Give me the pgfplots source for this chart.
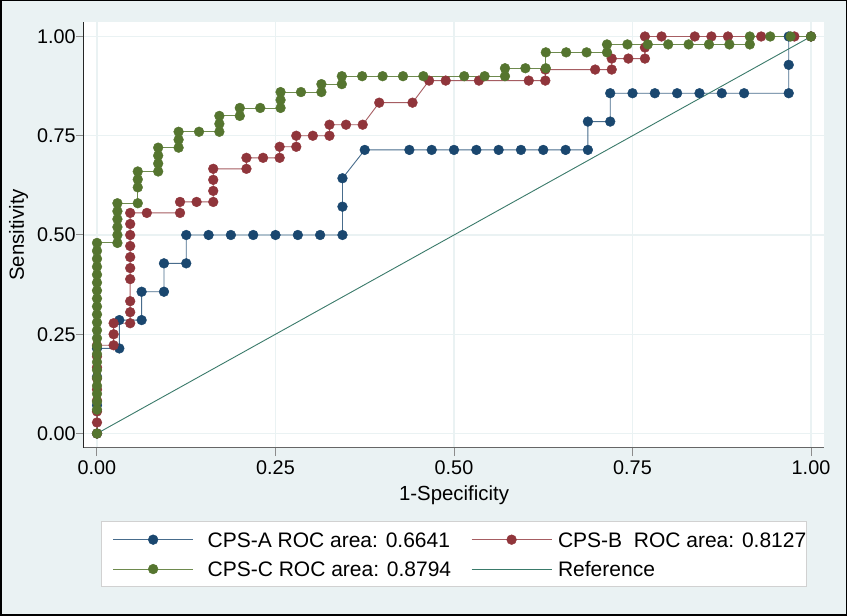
\documentclass[border=0pt]{standalone}
\usepackage{fontspec}
\setmainfont{Liberation Sans}
\usepackage{pgfplots}
\pgfplotsset{compat=1.18}
\definecolor{bgc}{HTML}{EAF2F3}
\definecolor{cA}{HTML}{1A476F}
\definecolor{cB}{HTML}{90353B}
\definecolor{cC}{HTML}{55752F}
\definecolor{cR}{HTML}{3A7A6A}
\begin{document}
\begin{tikzpicture}
\path[use as bounding box] (0,0) rectangle (423.5pt,308pt);
\fill[bgc] (0,0) rectangle (423.5pt,308pt);
\begin{axis}[
  at={(42pt,84pt)}, anchor=south west,
  scale only axis, width=370pt, height=213pt,
  xmin=-0.0182, xmax=1.0182, ymin=-0.0365, ymax=1.0365,
  axis lines*=left,
  axis line style={-},
  axis background/.style={fill=white},
  x axis line style={draw=black!60, line width=0.5pt},
  y axis line style={draw=black!85, line width=0.5pt},
  xtick={0,0.25,0.5,0.75,1}, ytick={0,0.25,0.5,0.75,1},
  xticklabels={0.00,0.25,0.50,0.75,1.00},
  yticklabels={0.00,0.25,0.50,0.75,1.00},
  tick align=outside, major tick length=4pt,
  tick style={draw=black!45, line width=0.5pt},
  xmajorgrids, ymajorgrids,
  grid style={draw=bgc, line width=0.6pt},
  x tick label style={font=\fontsize{9.9}{12}\selectfont, anchor=north, inner sep=0pt, yshift=-2pt},
  y tick label style={font=\fontsize{9.9}{12}\selectfont, anchor=east, inner sep=0pt},
  xlabel={1-Specificity}, ylabel={Sensitivity},
  label style={font=\fontsize{10.2}{12}\selectfont},
  xlabel style={at={(axis description cs:0.5,-0.1221)}, anchor=base},
  ylabel style={at={(axis description cs:-0.0811,0.5)}, anchor=base},
  legend columns=2,
  legend cell align=left,
  legend style={at={(axis description cs:0.5,-0.172)}, anchor=north,
    draw=black!18, fill=white, line width=0.5pt,
    inner xsep=0pt, inner ysep=5.2pt,
    font=\fontsize{10.5}{12}\selectfont,
    nodes={inner sep=0pt, text height=7.5pt, text depth=0pt},
    row sep=7.2pt,
    /tikz/column 1/.style={column sep=7pt},
    /tikz/column 2/.style={column sep=4.5pt},
    /tikz/column 3/.style={column sep=3pt}},
  legend image code/.code={\path (-5.5pt,0pt);
    \draw[#1,mark repeat=2,mark phase=2] plot coordinates {(0pt,0pt) (20pt,0pt) (40pt,0pt)};},
]
% CPS-A
\addplot[cA!80!white, line width=0.45pt, mark=*, mark size=2.45pt, mark options={fill=cA, draw=cA, line width=0.2pt}] coordinates {
(0,0) (0,0.0714) (0,0.1429) (0,0.2143) (0.0313,0.2143) (0.0313,0.2857) (0.0625,0.2857) (0.0625,0.3571)
(0.0938,0.3571) (0.0938,0.4286) (0.125,0.4286) (0.125,0.5) (0.1563,0.5) (0.1875,0.5) (0.2188,0.5) (0.25,0.5)
(0.2813,0.5) (0.3125,0.5) (0.3438,0.5) (0.3438,0.5714) (0.3438,0.6429) (0.375,0.7143) (0.4375,0.7143)
(0.4688,0.7143) (0.5,0.7143) (0.5313,0.7143) (0.5625,0.7143) (0.5938,0.7143) (0.625,0.7143) (0.6563,0.7143)
(0.6875,0.7143) (0.6875,0.7857) (0.7188,0.7857) (0.7188,0.8571) (0.75,0.8571) (0.7813,0.8571) (0.8125,0.8571)
(0.8438,0.8571) (0.875,0.8571) (0.9063,0.8571) (0.9688,0.8571) (0.9688,0.9286) (0.9688,1) (1,1)};
\addlegendentry{CPS-A ROC area: 0.6641}
% CPS-B
\addplot[cB!80!white, line width=0.45pt, mark=*, mark size=2.45pt, mark options={fill=cB, draw=cB, line width=0.2pt}] coordinates {
(0,0) (0,0.0278) (0,0.0556) (0,0.0833) (0,0.1111) (0,0.1389) (0,0.1667) (0,0.1944) (0,0.2222)
(0.0233,0.2222) (0.0233,0.25) (0.0233,0.2778) (0.0465,0.2778) (0.0465,0.3056) (0.0465,0.3333) (0.0465,0.3889)
(0.0465,0.4167) (0.0465,0.4444) (0.0465,0.4722) (0.0465,0.5) (0.0465,0.5278) (0.0465,0.5556) (0.0698,0.5556)
(0.1163,0.5556) (0.1163,0.5833) (0.1395,0.5833) (0.1628,0.5833) (0.1628,0.6111) (0.1628,0.6389) (0.1628,0.6667)
(0.2093,0.6667) (0.2093,0.6944) (0.2326,0.6944) (0.2558,0.6944) (0.2558,0.7222) (0.2791,0.7222) (0.2791,0.75)
(0.3023,0.75) (0.3256,0.75) (0.3256,0.7778) (0.3488,0.7778) (0.3721,0.7778) (0.3953,0.8333) (0.4419,0.8333)
(0.4651,0.8889) (0.4884,0.8889) (0.5349,0.8889) (0.6047,0.8889) (0.6279,0.8889) (0.6279,0.9167) (0.6977,0.9167)
(0.7209,0.9167) (0.7209,0.9444) (0.7442,0.9444) (0.7674,0.9444) (0.7674,0.9722) (0.7674,1) (0.7907,1)
(0.8372,1) (0.8605,1) (0.8837,1) (0.9302,1) (0.9767,1) (1,1)};
\addlegendentry{CPS-B\ \ ROC area: 0.8127}
% CPS-C
\addplot[cC!85!white, line width=0.45pt, mark=*, mark size=2.45pt, mark options={fill=cC, draw=cC, line width=0.2pt}] coordinates {
(0,0) (0,0.06) (0,0.08) (0,0.10) (0,0.12) (0,0.14) (0,0.16) (0,0.18) (0,0.20) (0,0.22) (0,0.24) (0,0.26)
(0,0.28) (0,0.30) (0,0.32) (0,0.34) (0,0.36) (0,0.38) (0,0.40) (0,0.42) (0,0.44) (0,0.46) (0,0.48)
(0.0286,0.48) (0.0286,0.5) (0.0286,0.52) (0.0286,0.54) (0.0286,0.56) (0.0286,0.58)
(0.0571,0.58) (0.0571,0.62) (0.0571,0.64) (0.0571,0.66)
(0.0857,0.66) (0.0857,0.68) (0.0857,0.7) (0.0857,0.72)
(0.1143,0.72) (0.1143,0.74) (0.1143,0.76) (0.1429,0.76)
(0.1714,0.76) (0.1714,0.78) (0.1714,0.8) (0.2,0.8) (0.2,0.82) (0.2286,0.82)
(0.2571,0.82) (0.2571,0.84) (0.2571,0.86) (0.2857,0.86) (0.3143,0.86) (0.3143,0.88)
(0.3429,0.88) (0.3429,0.9) (0.3714,0.9) (0.4,0.9) (0.4286,0.9) (0.4571,0.9) (0.5143,0.9) (0.5429,0.9)
(0.5714,0.9) (0.5714,0.92) (0.6,0.92) (0.6286,0.92) (0.6286,0.96) (0.6571,0.96) (0.6857,0.96)
(0.7143,0.96) (0.7143,0.98) (0.7429,0.98) (0.7714,0.98) (0.8,0.98) (0.8286,0.98) (0.8571,0.98) (0.8857,0.98)
(0.9143,0.98) (0.9143,1) (0.9429,1) (0.9714,1) (1,1)};
\addlegendentry{CPS-C ROC area: 0.8794}
% Reference
\addplot[cR, line width=0.45pt] coordinates {(0,0) (1,1)};
\addlegendentry{Reference}
\end{axis}
\draw[black, line width=0.75pt] (0.375pt,0.375pt) rectangle (423.125pt,307.625pt);
\end{tikzpicture}
\end{document}
